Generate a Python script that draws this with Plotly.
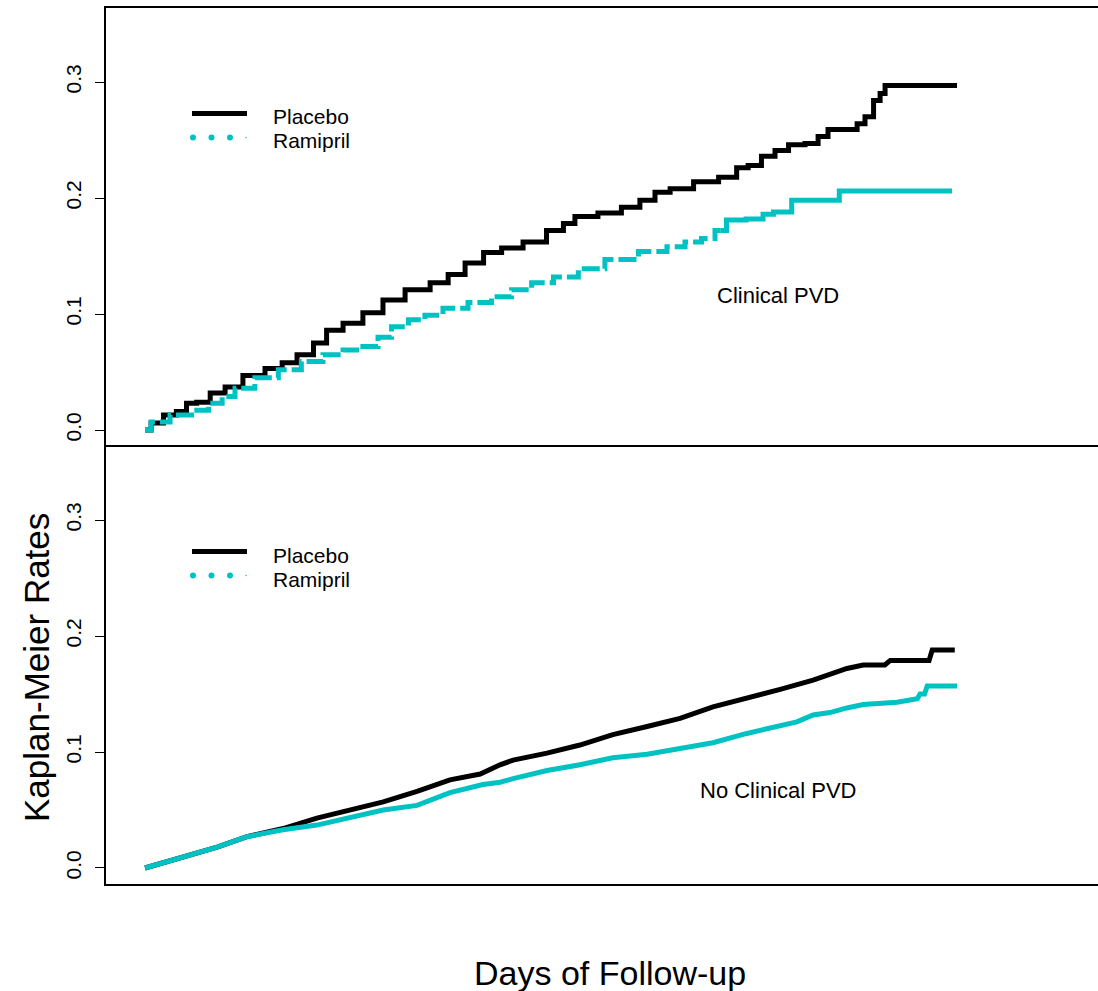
import plotly.graph_objects as go

# ---- Kaplan-Meier curves (days of follow-up, cumulative event rate) ----
# Clinical PVD subgroup
pvd_placebo_days = [0, 27, 55, 84, 100, 129, 160, 195, 239, 293, 315, 359, 388, 417, 461,
                    505, 550, 603, 661, 683, 736, 765, 816, 860, 920, 935, 971, 1037, 1075,
                    1119, 1142, 1186, 1246, 1297, 1326, 1348, 1385, 1408, 1445, 1481, 1503,
                    1525, 1572, 1585, 1607, 1623, 1636, 1645, 1800]
pvd_placebo_rate = [0, .006, .013, .016, .023, .024, .032, .037, .047, .053, .058, .065, .075,
                    .086, .092, .101, .112, .121, .127, .134, .144, .153, .157, .162, .172,
                    .178, .184, .187, .192, .198, .205, .208, .214, .218, .226, .228, .236,
                    .241, .246, .247, .253, .259, .259, .264, .270, .284, .290, .297, .297]

pvd_ramipril_days = [0, 27, 84, 122, 160, 182, 217, 270, 321, 372, 417, 461, 505, 528, 565,
                     603, 638, 683, 749, 787, 838, 876, 935, 986, 1053, 1135, 1179, 1215,
                     1252, 1275, 1303, 1362, 1378, 1408, 1459, 1532, 1546, 1789]
pvd_ramipril_rate = [0, .007, .013, .017, .023, .029, .036, .045, .052, .059, .065, .069,
                     .072, .080, .089, .095, .099, .105, .110, .115, .121, .127, .132, .139,
                     .147, .154, .158, .162, .165, .172, .181, .182, .186, .188, .198, .198,
                     .206, .206]

# No clinical PVD subgroup
nopvd_placebo_days = [0, 84, 160, 226, 306, 381, 454, 528, 603, 676, 743, 787, 816, 891, 964,
                      1037, 1113, 1186, 1259, 1334, 1408, 1481, 1518, 1556, 1592, 1640, 1652,
                      1738, 1745, 1795]
nopvd_placebo_rate = [0, .0095, .018, .027, .034, .043, .050, .057, .066, .076, .081, .089,
                      .093, .099, .106, .115, .122, .129, .139, .146, .154, .162, .167, .172,
                      .175, .175, .179, .179, .188, .188]

nopvd_ramipril_days = [0, 84, 160, 226, 306, 381, 454, 528, 603, 676, 749, 787, 816, 891, 964,
                       1037, 1113, 1186, 1223, 1259, 1334, 1408, 1445, 1481, 1518, 1556, 1592,
                       1667, 1700, 1712, 1718, 1728, 1734, 1800]
nopvd_ramipril_rate = [0, .0095, .018, .027, .033, .037, .044, .050, .054, .065, .072, .074,
                       .077, .084, .089, .095, .098, .103, .105, .108, .116, .122, .126, .132,
                       .134, .138, .141, .143, .146, .146, .150, .150, .157, .157]

tick_vals = [0.0, 0.1, 0.2, 0.3]
tick_text = ["0.0", "0.1", "0.2", "0.3"]
group_names = ["Placebo", "Ramipril"]
panel_labels = ["Clinical PVD", "No Clinical PVD"]

# ---- styling ----
BLACK = "#000000"
CYAN = "#00C2C2"
FONT = "Liberation Sans, Arial, Helvetica, sans-serif"
W, H = 1098, 991
L, R, T, B = 106, 0, 8, 107
PW, PH = W - L - R, H - T - B
SPLIT = 445  # pixel row where the two panels meet


def px_x(x):
    return (x - L) / PW


def px_y(y):
    return (H - B - y) / PH


split_frac = px_y(SPLIT)

fig = go.Figure()

# top panel (xaxis2 / yaxis2): Clinical PVD
fig.add_trace(go.Scatter(x=pvd_placebo_days, y=pvd_placebo_rate, mode="lines",
                         line=dict(color=BLACK, width=5, shape="hvh"),
                         xaxis="x2", yaxis="y2", showlegend=False))
k = pvd_ramipril_days.index(1275)
fig.add_trace(go.Scatter(x=pvd_ramipril_days[:k + 1], y=pvd_ramipril_rate[:k + 1], mode="lines",
                         line=dict(color=CYAN, width=5, shape="hvh", dash="18px,5px"),
                         xaxis="x2", yaxis="y2", showlegend=False))
fig.add_trace(go.Scatter(x=pvd_ramipril_days[k:], y=pvd_ramipril_rate[k:], mode="lines",
                         line=dict(color=CYAN, width=5, shape="hvh"),
                         xaxis="x2", yaxis="y2", showlegend=False))

# bottom panel (xaxis / yaxis): No clinical PVD
fig.add_trace(go.Scatter(x=nopvd_placebo_days, y=nopvd_placebo_rate, mode="lines",
                         line=dict(color=BLACK, width=5),
                         showlegend=False))
fig.add_trace(go.Scatter(x=nopvd_ramipril_days, y=nopvd_ramipril_rate, mode="lines",
                         line=dict(color=CYAN, width=5),
                         showlegend=False))

xr = [-86.5, 2112.5]
yaxis_common = dict(tickmode="array", tickvals=tick_vals, ticktext=tick_text,
                    ticks="outside", ticklen=9, tickwidth=1, tickcolor=BLACK,
                    tickangle=-90, ticklabelstandoff=6,
                    tickfont=dict(family=FONT, size=21, color=BLACK),
                    showgrid=False, zeroline=False, showline=True,
                    linecolor=BLACK, linewidth=1.5)
xaxis_common = dict(range=xr, showticklabels=False, ticks="", showgrid=False,
                    zeroline=False, showline=True, linecolor=BLACK, linewidth=2)

fig.update_layout(
    width=W, height=H,
    margin=dict(l=L, r=R, t=T, b=B),
    paper_bgcolor="white", plot_bgcolor="white",
    xaxis=dict(domain=[0, 1], anchor="y", **xaxis_common),
    yaxis=dict(domain=[0, split_frac], anchor="x", range=[-0.0138, 0.3647], **yaxis_common),
    xaxis2=dict(domain=[0, 1], anchor="y2", mirror=True, **xaxis_common),
    yaxis2=dict(domain=[split_frac, 1], anchor="x2", range=[-0.0129, 0.3638], **yaxis_common),
)

# legends drawn inside each panel
shapes = []
annotations = []
for line_y, dot_y, txt_y1, txt_y2 in [(113.5, 137.5, 117, 141), (551.5, 575.5, 555.5, 579.5)]:
    shapes.append(dict(type="line", xref="paper", yref="paper",
                       x0=px_x(192), x1=px_x(247), y0=px_y(line_y), y1=px_y(line_y),
                       line=dict(color=BLACK, width=5)))
    for cx, d in [(193, 6), (211.5, 6), (230, 6), (246, 1.5)]:
        shapes.append(dict(type="circle", xref="paper", yref="paper",
                           x0=px_x(cx - d / 2), x1=px_x(cx + d / 2),
                           y0=px_y(dot_y - d / 2), y1=px_y(dot_y + d / 2),
                           fillcolor=CYAN, line=dict(width=0)))
    for name, ty in zip(group_names, [txt_y1, txt_y2]):
        annotations.append(dict(text=name, xref="paper", yref="paper",
                                x=px_x(271), y=px_y(ty), xanchor="left", yanchor="middle",
                                showarrow=False, font=dict(family=FONT, size=21, color=BLACK)))

# subgroup labels
for label, cy in zip(panel_labels, [295, 790]):
    annotations.append(dict(text=label, xref="paper", yref="paper",
                            x=px_x(778), y=px_y(cy), xanchor="center", yanchor="middle",
                            showarrow=False, font=dict(family=FONT, size=22, color=BLACK)))

# axis titles
annotations.append(dict(text="Kaplan-Meier Rates", xref="paper", yref="paper",
                        x=px_x(36), y=px_y(668), xanchor="center", yanchor="middle",
                        textangle=-90, showarrow=False,
                        font=dict(family=FONT, size=35, color=BLACK)))
annotations.append(dict(text="Days of Follow-up", xref="paper", yref="paper",
                        x=px_x(610), y=px_y(973), xanchor="center", yanchor="middle",
                        showarrow=False, font=dict(family=FONT, size=34, color=BLACK)))

fig.update_layout(shapes=shapes, annotations=annotations)

fig.write_html("out.html")
